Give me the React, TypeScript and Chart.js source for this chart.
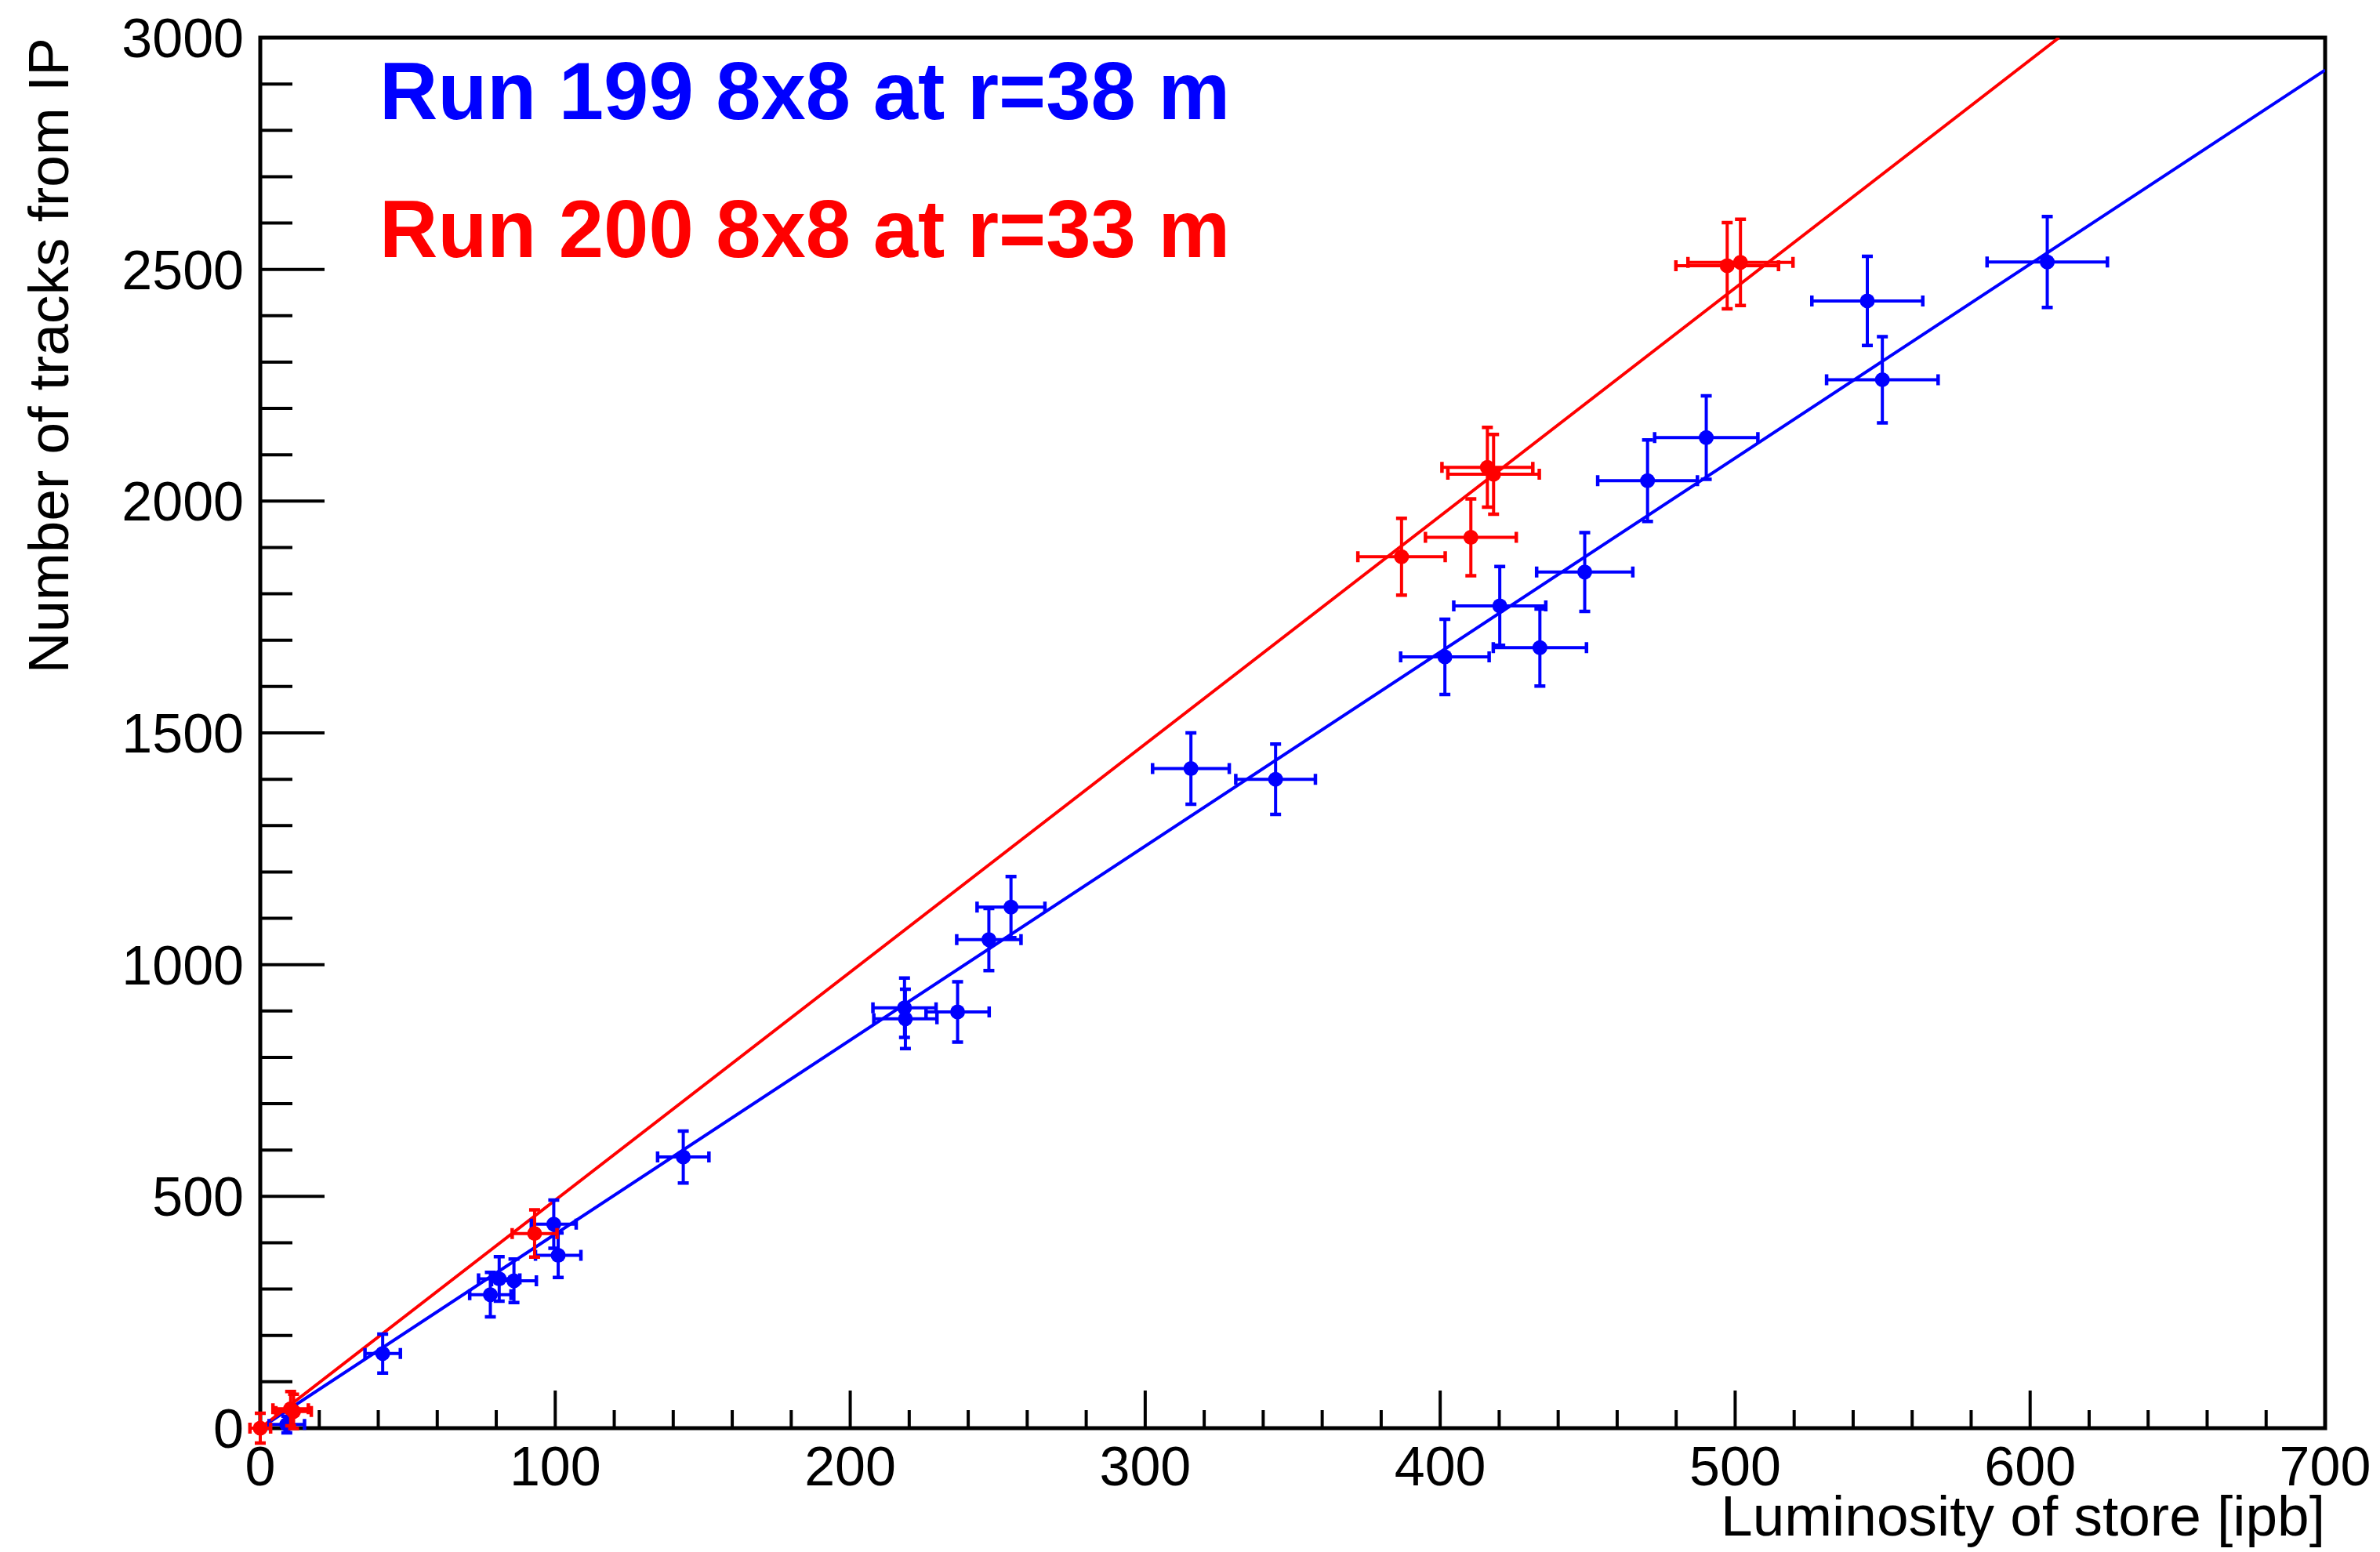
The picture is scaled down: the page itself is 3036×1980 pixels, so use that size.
import React, { useEffect, useRef } from "react";
import { Chart, registerables } from "chart.js";

Chart.register(...registerables);

const W = 3036;
const H = 1980;
const FONT = '"Liberation Sans", Arial, Helvetica, sans-serif';
const BLUE = "#0000ff";
const RED = "#ff0000";

// Axis ticks / labels
const xTickValues = [0, 100, 200, 300, 400, 500, 600, 700];
const xTickLabels = ["0", "100", "200", "300", "400", "500", "600", "700"];
const yTickValues = [0, 500, 1000, 1500, 2000, 2500, 3000];
const yTickLabels = ["0", "500", "1000", "1500", "2000", "2500", "3000"];
const xMinorStep = 20;
const yMinorStep = 100;

const xTitle = "Luminosity of store [ipb]";
const yTitle = "Number of tracks from IP";
const label199 = "Run 199 8x8 at r=38 m";
const label200 = "Run 200 8x8 at r=33 m";

// Run 199 (blue)
const blueX = [9, 41.5, 78, 81, 86, 99.5, 101, 143.4, 218.4, 218.7, 236.4, 247, 254.5, 315.5, 344.2, 401.6, 420.2, 433.8, 449, 470.3, 490.2, 544.8, 549.9, 605.8];
const blueY = [8, 161, 288, 322, 318, 440, 373, 585, 907, 883, 898, 1054, 1124, 1423, 1400, 1664, 1774, 1684, 1847, 2044, 2137, 2432, 2262, 2516];
const blueEX = [6, 6, 7, 7, 7.6, 7.6, 7.7, 8.7, 10.7, 10.7, 10.7, 10.9, 11.5, 13, 13.5, 15, 15.6, 15.8, 16.3, 16.9, 17.5, 18.8, 18.9, 20.4];
const blueEY = [18, 42, 48, 48, 47, 52, 48, 56, 64, 64, 65, 67, 66, 77, 76, 81, 85, 83, 85, 88, 90, 96, 93, 98];

// Run 200 (red)
const redX = [0, 10.3, 11.3, 93, 386.9, 410.4, 416, 418.1, 497.3, 501.8];
const redY = [0, 42, 36, 420, 1880, 1922, 2073, 2058, 2508, 2515];
const redEX = [3.5, 6, 6, 7.6, 14.8, 15.4, 15.4, 15.5, 17.4, 17.8];
const redEY = [32, 37, 37, 51, 83, 83, 86, 86, 93, 93];

// Fit lines (end points)
const blueFitX = [0, 700];
const blueFitY = [0, 2930];
const redFitX = [0, 609.8];
const redFitY = [0, 3000];

const toPts = (xs: number[], ys: number[]) => xs.map((x, i) => ({ x, y: ys[i] }));

const errorBarPlugin = {
  id: "errorBars",
  beforeDatasetDraw(chart: any, args: any) {
    const ds = chart.data.datasets[args.index];
    if (!ds.errX) return;
    const xs = chart.scales.x;
    const ys = chart.scales.y;
    const ctx = chart.ctx;
    ctx.save();
    ctx.strokeStyle = ds.errColor;
    ctx.lineCap = "butt";
    const cap = 7;
    ds.data.forEach((p: any, i: number) => {
      const px = xs.getPixelForValue(p.x);
      const py = ys.getPixelForValue(p.y);
      const x1 = xs.getPixelForValue(p.x - ds.errX[i]);
      const x2 = xs.getPixelForValue(p.x + ds.errX[i]);
      const y1 = ys.getPixelForValue(p.y + ds.errY[i]);
      const y2 = ys.getPixelForValue(p.y - ds.errY[i]);
      ctx.lineWidth = 4;
      ctx.beginPath();
      ctx.moveTo(x1, py);
      ctx.lineTo(x2, py);
      ctx.moveTo(px, y1);
      ctx.lineTo(px, y2);
      ctx.stroke();
      ctx.lineWidth = 4.5;
      ctx.beginPath();
      ctx.moveTo(x1, py - cap);
      ctx.lineTo(x1, py + cap);
      ctx.moveTo(x2, py - cap);
      ctx.lineTo(x2, py + cap);
      ctx.moveTo(px - cap, y1);
      ctx.lineTo(px + cap, y1);
      ctx.moveTo(px - cap, y2);
      ctx.lineTo(px + cap, y2);
      ctx.stroke();
    });
    ctx.restore();
  },
};

const framePlugin = {
  id: "rootFrame",
  beforeDatasetsDraw(chart: any) {
    const { left, right, top, bottom } = chart.chartArea;
    const xs = chart.scales.x;
    const ys = chart.scales.y;
    const ctx = chart.ctx;
    ctx.save();
    ctx.strokeStyle = "#000";
    ctx.lineWidth = 5;
    ctx.strokeRect(left, top, right - left, bottom - top);
    ctx.lineWidth = 4;
    ctx.beginPath();
    for (let v = xs.min; v <= xs.max + 1e-6; v += xMinorStep) {
      const px = xs.getPixelForValue(v);
      const major = xTickValues.includes(Math.round(v));
      const len = major ? 48 : 23;
      ctx.moveTo(px, bottom);
      ctx.lineTo(px, bottom - len);
    }
    for (let v = ys.min; v <= ys.max + 1e-6; v += yMinorStep) {
      const py = ys.getPixelForValue(v);
      const major = yTickValues.includes(Math.round(v));
      const len = major ? 82 : 41;
      ctx.moveTo(left, py);
      ctx.lineTo(left + len, py);
    }
    ctx.stroke();
    ctx.restore();
  },
  afterDraw(chart: any) {
    const { left, right, top, bottom } = chart.chartArea;
    const xs = chart.scales.x;
    const ys = chart.scales.y;
    const ctx = chart.ctx;
    ctx.save();
    ctx.fillStyle = "#000";
    ctx.font = `70px ${FONT}`;
    ctx.textBaseline = "alphabetic";
    ctx.textAlign = "center";
    xTickValues.forEach((v, i) => {
      ctx.fillText(xTickLabels[i], xs.getPixelForValue(v), bottom + 73);
    });
    ctx.textAlign = "right";
    yTickValues.forEach((v, i) => {
      ctx.fillText(yTickLabels[i], left - 21, ys.getPixelForValue(v) + 25);
    });
    ctx.font = `73px ${FONT}`;
    ctx.textAlign = "right";
    ctx.fillText(xTitle, right, bottom + 137);
    ctx.save();
    ctx.translate(87, top);
    ctx.rotate(-Math.PI / 2);
    ctx.textAlign = "right";
    ctx.fillText(yTitle, 0, 0);
    ctx.restore();
    ctx.font = `bold 103px ${FONT}`;
    ctx.textAlign = "left";
    ctx.fillStyle = BLUE;
    ctx.fillText(label199, 484, 152);
    ctx.fillStyle = RED;
    ctx.fillText(label200, 484, 328);
    ctx.restore();
  },
};

export default function App() {
  const ref = useRef<HTMLCanvasElement | null>(null);
  useEffect(() => {
    if (!ref.current) return;
    const chart = new Chart(ref.current, {
      type: "scatter",
      data: {
        datasets: [
          {
            label: "Run 200",
            data: toPts(redX, redY),
            errX: redEX,
            errY: redEY,
            errColor: RED,
            pointRadius: 9.5,
            pointBorderWidth: 0,
            pointBackgroundColor: RED,
            backgroundColor: RED,
            borderColor: RED,
            showLine: false,
            clip: false,
          } as any,
          {
            label: "Run 199",
            data: toPts(blueX, blueY),
            errX: blueEX,
            errY: blueEY,
            errColor: BLUE,
            pointRadius: 9.5,
            pointBorderWidth: 0,
            pointBackgroundColor: BLUE,
            backgroundColor: BLUE,
            borderColor: BLUE,
            showLine: false,
            clip: false,
          } as any,
          {
            label: "Fit 200",
            data: toPts(redFitX, redFitY),
            showLine: true,
            pointRadius: 0,
            borderColor: RED,
            borderWidth: 4,
            fill: false,
            tension: 0,
          } as any,
          {
            label: "Fit 199",
            data: toPts(blueFitX, blueFitY),
            showLine: true,
            pointRadius: 0,
            borderColor: BLUE,
            borderWidth: 4,
            fill: false,
            tension: 0,
          } as any,
        ],
      },
      options: {
        animation: false,
        responsive: false,
        devicePixelRatio: 1,
        events: [],
        layout: { padding: { left: 332, right: W - 2966, top: 48, bottom: H - 1822 } },
        plugins: { legend: { display: false }, tooltip: { enabled: false }, title: { display: false } },
        scales: {
          x: { type: "linear", min: 0, max: 700, display: false },
          y: { type: "linear", min: 0, max: 3000, display: false },
        },
      } as any,
      plugins: [framePlugin, errorBarPlugin],
    });
    return () => chart.destroy();
  }, []);
  return (
    <div style={{ position: "fixed", left: 0, top: 0, width: W, height: H, background: "#fff" }}>
      <canvas ref={ref} width={W} height={H} style={{ display: "block", width: W, height: H }} />
    </div>
  );
}
